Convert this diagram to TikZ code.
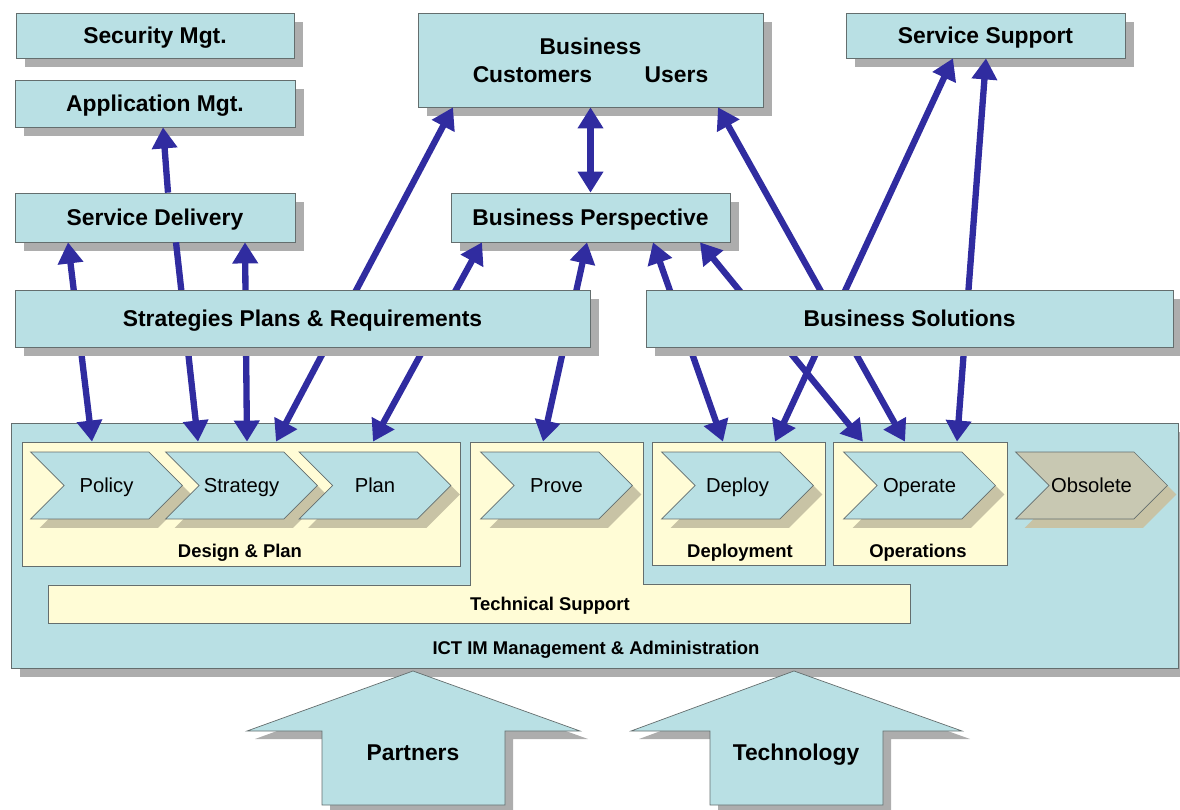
\documentclass[tikz,border=0pt]{standalone}
\usepackage{fontspec}
\setmainfont{Liberation Sans}
\usetikzlibrary{shapes.symbols,shadows,arrows.meta,calc}

\definecolor{boxblue}{RGB}{185,224,228}
\definecolor{paleyellow}{RGB}{255,252,214}
\definecolor{oldgray}{RGB}{200,200,178}
\definecolor{flowblue}{RGB}{48,44,160}
\definecolor{chevshade}{RGB}{200,195,165}
\definecolor{edgegray}{RGB}{100,110,110}

\begin{document}
\begin{tikzpicture} [
  x=0.02cm, y=-0.02cm,
  panel/.style={rectangle,draw=edgegray,fill=boxblue,inner sep=0pt,
    font=\fontsize{13}{16}\selectfont\bfseries,
    drop shadow={shadow xshift=0.18cm,shadow yshift=-0.18cm,fill=black!32,opacity=1}},
  box/.style={panel,text height=9.5pt,text depth=0.5pt},
  group/.style={rectangle,draw=edgegray,fill=paleyellow,inner sep=0pt},
  stage/.style={signal,signal from=west,signal to=east,signal pointer angle=90,
    draw=edgegray,fill=boxblue,inner sep=0pt,minimum width=3.04cm,minimum height=1.34cm,
    font=\fontsize{11.5}{14}\selectfont,text height=8.4pt,text depth=0.3pt,
    drop shadow={shadow xshift=0.18cm,shadow yshift=-0.18cm,fill=chevshade,opacity=1}},
  tag/.style={font=\fontsize{10.5}{12}\selectfont\bfseries,text height=7.6pt,text depth=0.4pt},
  bigarrow/.style={draw=edgegray,fill=boxblue,
    drop shadow={shadow xshift=0.16cm,shadow yshift=-0.16cm,fill=black!32,opacity=1}},
  bigtext/.style={font=\fontsize{13}{16}\selectfont\bfseries,text height=9.5pt,text depth=0.5pt},
  flow/.style={draw=flowblue,line width=3.6pt,-{Triangle[length=12pt,width=14pt]}},
  both/.style={flow,{Triangle[length=12pt,width=14pt]}-{Triangle[length=12pt,width=14pt]}}]

\useasboundingbox (0,0) rectangle (1180,810);

\node[panel,minimum width=23.34cm,minimum height=4.9cm] (ict) at (594.5,545.5) {};
\node[tag] (ictlabel) at (596,648) {ICT IM Management \& Administration};

\node[group,minimum width=8.76cm,minimum height=2.48cm] (design) at (241,504) {};
\filldraw[draw=edgegray,fill=paleyellow] (470,442) -- (643,442) -- (643,584) -- (910,584)
  -- (910,623) -- (48,623) -- (48,585) -- (470,585) -- cycle;
\node[group,minimum width=3.46cm,minimum height=2.46cm] (deployment) at (738.5,503.5) {};
\node[group,minimum width=3.48cm,minimum height=2.46cm] (operations) at (920,503.5) {};

\node[tag] (designlabel) at (240,551) {Design \& Plan};
\node[tag] (deploymentlabel) at (740,551) {Deployment};
\node[tag] (operationslabel) at (918,551) {Operations};
\node[tag] (techlabel) at (550,604) {Technical Support};

\node[stage] (policy) at (106.5,485.5) {Policy};
\node[stage] (strategy) at (241.5,485.5) {Strategy};
\node[stage] (plan) at (375,485.5) {Plan};
\node[stage] (prove) at (556.5,485.5) {Prove};
\node[stage] (deploy) at (737.5,485.5) {Deploy};
\node[stage] (operate) at (919.5,485.5) {Operate};
\node[stage,fill=oldgray] (obsolete) at (1091.5,485.5) {Obsolete};

\node[box,minimum width=5.56cm,minimum height=0.9cm] (security) at (155,35.5) {Security Mgt.};
\node[box,minimum width=5.6cm,minimum height=0.94cm] (application) at (155,103.5) {Application Mgt.};
\node[box,minimum width=5.6cm,minimum height=0.98cm] (delivery) at (155,217.5) {Service Delivery};
\node[panel,minimum width=6.9cm,minimum height=1.88cm,align=center] (business) at (590.5,60)
  {Business\\Customers\hspace{30pt}Users};
\node[box,minimum width=5.58cm,minimum height=0.98cm] (perspective) at (590.5,217.5) {Business Perspective};
\node[box,minimum width=5.58cm,minimum height=0.9cm] (support) at (985.5,35.5) {Service Support};

\draw[flow] ($(delivery.north)+(13,0)$) -- ($(application.south)+(8,0)$);
\draw[both] ($(delivery.south)+(-87,0)$) -- ($(design.north)+(-149,0)$);
\draw[flow] ($(delivery.south)+(21,0)$) -- ($(design.north)+(-43,0)$);
\draw[both] ($(delivery.south)+(90,0)$) -- ($(design.north)+(6,0)$);
\draw[both] ($(business.south)+(-137.5,0)$) -- ($(design.north)+(35,0)$);
\draw[both] ($(perspective.south)+(-108.5,0)$) -- ($(design.north)+(132,0)$);
\draw[both] ($(perspective.south)+(-3.5,0)$) -- ($(prove.north)+(-13.5,-10)$);
\draw[both] (business.south) -- (perspective.north);
\draw[both] ($(perspective.south)+(62.5,0)$) -- ($(deployment.north)+(-15.5,0)$);
\draw[both] ($(perspective.south)+(109.5,0)$) -- ($(operations.north)+(-57,0)$);
\draw[both] ($(business.south)+(127.5,0)$) -- ($(operations.north)+(-15,0)$);
\draw[both] ($(support.south)+(-32.5,0)$) -- ($(deployment.north)+(36.5,0)$);
\draw[both] ($(support.south)+(0.5,0)$) -- ($(operations.north)+(37,0)$);

\node[box,minimum width=11.5cm,minimum height=1.14cm] (strategies) at (302.5,318.5)
  {Strategies Plans \& Requirements};
\node[box,minimum width=10.54cm,minimum height=1.14cm] (solutions) at (909.5,318.5) {Business Solutions};

\filldraw[bigarrow] (413,671) -- (580,731) -- (505,731) -- (505,805) -- (322,805)
  -- (322,731) -- (247,731) -- cycle;
\node[bigtext] (partners) at (413,753) {Partners};
\filldraw[bigarrow] (794,671) -- (962,731) -- (883,731) -- (883,805) -- (710,805)
  -- (710,731) -- (631,731) -- cycle;
\node[bigtext] (technology) at (796,753) {Technology};
\end{tikzpicture}
\end{document}
